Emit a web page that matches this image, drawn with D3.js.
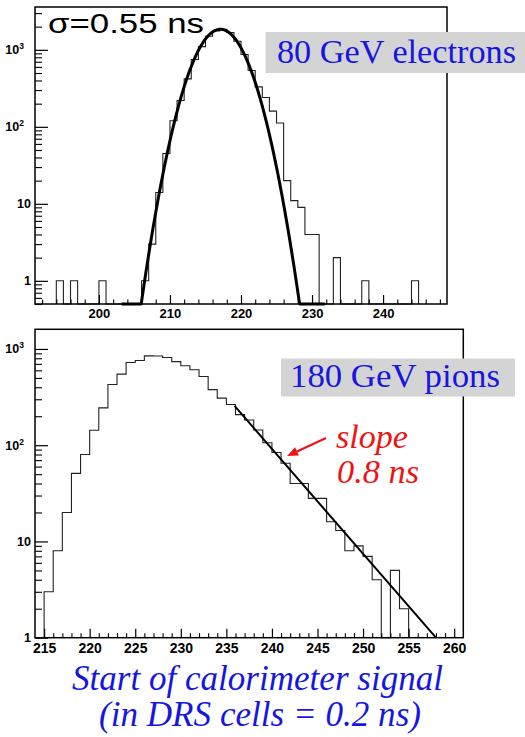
<!DOCTYPE html>
<html>
<head>
<meta charset="utf-8">
<script src="https://cdn.jsdelivr.net/npm/d3@7"></script>
<style>
  html, body { margin: 0; padding: 0; background: #ffffff; }
  svg { display: block; }
  .serif { font-family: "Liberation Serif", "DejaVu Serif", "Noto Serif", "Noto Serif CJK SC", "Noto Serif CJK JP", Tinos, FreeSerif, "Times New Roman", Times, serif; }
  .sans { font-family: "Liberation Sans", Arial, Helvetica, "DejaVu Sans", sans-serif; }
</style>
</head>
<body>
<div id="chart"></div>
<script>
// ---------------- data ----------------
// Top panel: 80 GeV electrons, bins of 1 DRS cell (lower edges)
const topBins = [194,195,196,197,198,199,200,201,202,203,204,205,206,207,208,209,210,211,212,213,214,215,216,217,218,219,220,221,222,223,224,225,226,227,228,229,230,231,232,233,234,235,236,237,238,239,240,241,242,243,244];
const topCounts = [1,0,1,0,0,0,1,0,0,0,0,0,1,3,14,45,120,220,420,750,1100,1500,1760,1850,1680,1290,870,540,330,240,160,112,20,11,9,4,4,0,0,2,0,0,0,1,0,0,0,0,0,0,1];
// Gaussian fit (sigma = 0.55 ns = 2.75 cells)
const topFitMean = 217.1, topFitSigma = 2.75, topFitAmp = 1850;
const topFitRange = [203.2, 231.8];
const topXTicks = [200, 210, 220, 230, 240];

// Bottom panel: 180 GeV pions
const botBins = [215,216,217,218,219,220,221,222,223,224,225,226,227,228,229,230,231,232,233,234,235,236,237,238,239,240,241,242,243,244,245,246,247,248,249,250,251,252,253,254];
const botCounts = [3,8,20,51,80,143,244,427,547,723,758,848,845,814,739,668,607,517,378,308,265,208,183,144,106,84,65,40,40,28,28,16,13,8,9,7,4,0,5,2];
// exponential fit, straight on log scale: start and end points
const botFitX = [235.9, 258];
const botFitY = [256, 1];
const botXTicks = [215,220,225,230,235,240,245,250,255,260];

const yDecades = [1, 10, 100, 1000];

// ---------------- layout ----------------
const W = 525, H = 737;
const svg = d3.select("#chart").append("svg").attr("width", W).attr("height", H);
svg.append("rect").attr("width", W).attr("height", H).attr("fill", "#fff");

function logMinors(lo, hi) {
  const out = [];
  for (let d = 0.1; d <= 1000; d *= 10) {
    for (let m = 2; m <= 9; m++) {
      const v = +(m * d).toPrecision(3);
      if (v >= lo && v <= hi) out.push(v);
    }
  }
  return out;
}

function panel(cfg) {
  const g = svg.append("g");
  const x = d3.scaleLinear().domain(cfg.xDomain).range([cfg.left, cfg.right]);
  const y = d3.scaleLog().domain(cfg.yDomain).range([cfg.bottom, cfg.top]).clamp(true);
  const ymin = cfg.yDomain[0];

  // histogram outline (step)
  const pts = [];
  pts.push([cfg.bins[0], ymin]);
  cfg.bins.forEach((b, i) => pts.push([b, Math.max(cfg.counts[i], ymin)]));
  const lastB = cfg.bins[cfg.bins.length - 1] + 1;
  pts.push([lastB, Math.max(cfg.counts[cfg.counts.length - 1], ymin)]);
  pts.push([lastB, ymin]);
  const step = d3.line().x(d => x(d[0])).y(d => y(d[1])).curve(d3.curveStepAfter);
  g.append("path").attr("d", step(pts)).attr("fill", "none")
    .attr("stroke", "#222").attr("stroke-width", 1.1);

  // fit line
  g.append("path").attr("d", d3.line().x(d => x(d[0])).y(d => y(Math.max(d[1], ymin)))(cfg.fit))
    .attr("fill", "none").attr("stroke", "#000").attr("stroke-width", cfg.fitWidth)
    .attr("stroke-linejoin", "round");

  // x axis ticks (inward)
  const xAxis = d3.axisBottom(x).tickValues(cfg.xTicks).tickSizeInner(-9).tickSizeOuter(0)
    .tickPadding(cfg.xPad).tickFormat(d3.format("d"));
  const gx = g.append("g").attr("transform", `translate(0,${cfg.bottom})`).call(xAxis);
  gx.attr("font-family", null).attr("font-size", null);
  gx.select(".domain").remove();
  gx.selectAll("text").attr("class", "sans").attr("font-weight", "bold")
    .attr("font-size", cfg.xFont).attr("fill", "#000");
  gx.selectAll("line").attr("stroke", "#000").attr("stroke-width", 1.2);
  const xMin = d3.axisBottom(x).tickValues(cfg.xMinor).tickSizeInner(-4.5).tickSizeOuter(0).tickFormat("");
  const gxm = g.append("g").attr("transform", `translate(0,${cfg.bottom})`).call(xMin);
  gxm.select(".domain").remove();
  gxm.selectAll("line").attr("stroke", "#000").attr("stroke-width", 1.1);

  // y axis ticks (inward)
  const yAxis = d3.axisLeft(y).tickValues(yDecades.filter(v => v >= ymin && v <= cfg.yDomain[1]))
    .tickSizeInner(-13).tickSizeOuter(0).tickFormat("");
  const gy = g.append("g").attr("transform", `translate(${cfg.left},0)`).call(yAxis);
  gy.select(".domain").remove();
  gy.selectAll("line").attr("stroke", "#000").attr("stroke-width", 1.2);
  const yMin = d3.axisLeft(y).tickValues(logMinors(cfg.yDomain[0], cfg.yDomain[1]))
    .tickSizeInner(-7).tickSizeOuter(0).tickFormat("");
  const gym = g.append("g").attr("transform", `translate(${cfg.left},0)`).call(yMin);
  gym.select(".domain").remove();
  gym.selectAll("line").attr("stroke", "#000").attr("stroke-width", 1.1);

  // y labels
  yDecades.forEach(v => {
    if (v < ymin || v > cfg.yDomain[1]) return;
    const t = g.append("text").attr("class", "sans").attr("font-weight", "bold")
      .attr("font-size", 12.5).attr("fill", "#000").attr("text-anchor", "end")
      .attr("y", y(v)).attr("dy", "0.36em");
    if (v < 100) {
      t.attr("x", cfg.left - 4).text(String(v));
    } else {
      t.attr("x", cfg.left - 11);
      t.append("tspan").text("10");
      t.append("tspan").attr("font-size", 8.5).attr("dy", -5).text(String(Math.round(Math.log10(v))));
    }
  });

  // frame
  g.append("rect").attr("x", cfg.left).attr("y", cfg.top)
    .attr("width", cfg.right - cfg.left).attr("height", cfg.bottom - cfg.top)
    .attr("fill", "none").attr("stroke", "#000").attr("stroke-width", 1.5);
  return { g, x, y };
}

// top panel
const topFit = d3.range(topFitRange[0], topFitRange[1] + 0.001, 0.1)
  .map(t => [t, topFitAmp * Math.exp(-((t - topFitMean) ** 2) / (2 * topFitSigma ** 2))]);
const topMinor = d3.range(192, 249, 2).filter(v => v % 10 !== 0);
panel({
  xDomain: [191, 249], yDomain: [0.5, 3600],
  left: 35, right: 447, top: 7, bottom: 304,
  bins: topBins, counts: topCounts, fit: topFit, fitWidth: 3,
  xTicks: topXTicks, xMinor: topMinor, xPad: 5, xFont: 13
});

// bottom panel
const botFit = botFitX.map((v, i) => [v, botFitY[i]]);
const botMinor = d3.range(215, 261, 1).filter(v => v % 5 !== 0);
panel({
  xDomain: [214, 261], yDomain: [1, 1600],
  left: 35, right: 463.3, top: 329.3, bottom: 637.7,
  bins: botBins, counts: botCounts, fit: botFit, fitWidth: 2,
  xTicks: botXTicks, xMinor: botMinor, xPad: 5.5, xFont: 14
});

// annotations
svg.append("text").attr("class", "sans").attr("x", 48).attr("y", 33)
  .attr("font-size", 27).attr("fill", "#000")
  .attr("textLength", 156).attr("lengthAdjust", "spacingAndGlyphs")
  .text("σ=0.55 ns");

const blue = "#1616e0";
svg.append("rect").attr("x", 265.5).attr("y", 32).attr("width", 260).attr("height", 41).attr("fill", "#d4d4d4");
svg.append("text").attr("class", "serif").attr("x", 277).attr("y", 63)
  .attr("font-size", 34).attr("fill", blue)
  .attr("textLength", 239).attr("lengthAdjust", "spacingAndGlyphs")
  .text("80 GeV electrons");

svg.append("rect").attr("x", 281).attr("y", 358.5).attr("width", 234).attr("height", 38).attr("fill", "#d4d4d4");
svg.append("text").attr("class", "serif").attr("x", 290).attr("y", 386.5)
  .attr("font-size", 34).attr("fill", blue)
  .attr("textLength", 210).attr("lengthAdjust", "spacingAndGlyphs")
  .text("180 GeV pions");

// red slope annotation
const red = "#ee1414";
svg.append("text").attr("class", "serif").attr("x", 336).attr("y", 448)
  .attr("font-style", "italic").attr("font-size", 34).attr("fill", red)
  .attr("textLength", 72).attr("lengthAdjust", "spacingAndGlyphs")
  .text("slope");
svg.append("text").attr("class", "serif").attr("x", 337).attr("y", 483)
  .attr("font-style", "italic").attr("font-size", 34).attr("fill", red)
  .attr("textLength", 82).attr("lengthAdjust", "spacingAndGlyphs")
  .text("0.8 ns");
const tail = [326, 438], tip = [287, 456];
const dx = tip[0] - tail[0], dy = tip[1] - tail[1], L = Math.hypot(dx, dy);
const ux = dx / L, uy = dy / L, hl = 11, hw = 4.5;
const bx = tip[0] - ux * hl, by = tip[1] - uy * hl;
svg.append("line").attr("x1", tail[0]).attr("y1", tail[1]).attr("x2", bx).attr("y2", by)
  .attr("stroke", red).attr("stroke-width", 2.2);
svg.append("path")
  .attr("d", `M${tip[0]},${tip[1]}L${bx - uy * hw},${by + ux * hw}L${bx + uy * hw},${by - ux * hw}Z`)
  .attr("fill", red);

// x title
svg.append("text").attr("class", "serif").attr("x", 72).attr("y", 690)
  .attr("font-style", "italic").attr("font-size", 35).attr("fill", blue)
  .attr("textLength", 371).attr("lengthAdjust", "spacingAndGlyphs")
  .text("Start of calorimeter signal");
svg.append("text").attr("class", "serif").attr("x", 99).attr("y", 726)
  .attr("font-style", "italic").attr("font-size", 35).attr("fill", blue)
  .attr("textLength", 322).attr("lengthAdjust", "spacingAndGlyphs")
  .text("(in DRS cells = 0.2 ns)");
</script>
</body>
</html>
